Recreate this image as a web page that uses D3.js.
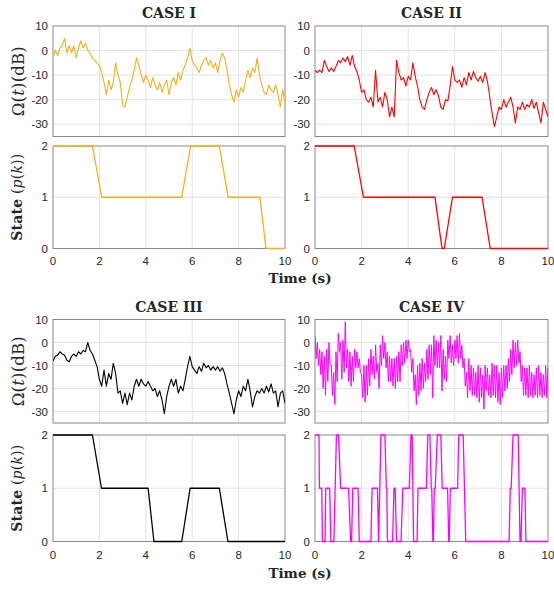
<!DOCTYPE html>
<html>
<head>
<meta charset="utf-8">
<script src="https://cdn.jsdelivr.net/npm/d3@7"></script>
<style>
    body { margin: 0; background: #ffffff; }
    svg { display: block; }
    .tick-label { font-family: 'Liberation Sans', Arial, sans-serif; font-size: 11.5px; fill: #262626; }
    .serif { font-family: 'DejaVu Serif', 'Liberation Serif', serif; fill: #262626; }
</style>
</head>
<body>
<div id="chart"></div>
<script>
// titles and tick labels
var caseTitles = ['CASE I', 'CASE II', 'CASE III', 'CASE IV'];
var timeTicks = [0, 2, 4, 6, 8, 10];
var signalTicks = [10, 0, -10, -20, -30];
var stateTicks = [0, 1, 2];

// signal samples, one every 0.1 s from 0 to 10 s (dB)
var signalStep = 0.1;

var caseOneSignal = [
    -3, 0, -2, 1, 2, 5, -1, 2, -1, 2,
    -3, 1, 4, 1, 3, 0, -1, -3, -4, -5,
    -6, -9, -13, -18, -12, -16, -13, -5, -10, -13,
    -22, -23, -19, -15, -12, -8, -3, -6, -10, -13,
    -10, -12, -15, -11, -14, -16, -13, -17, -14, -12,
    -18, -13, -11, -14, -9, -12, -8, -6, -3, 1,
    -4, -6, -7, -9, -6, -4, -3, -6, -4, -7,
    -5, -9, -4, -1, -3, -8, -14, -18, -21, -16,
    -19, -15, -17, -12, -8, -11, -7, -9, -3, -10,
    -14, -17, -18, -14, -16, -17, -14, -18, -23, -16,
    -21
];

var caseTwoSignal = [
    -8, -9, -8, -9, -4, -6.5, -8.5, -7, -8.5, -6.5,
    -4, -5, -3, -4.5, -2.5, -6, -2, -6.5, -8.5, -12,
    -17, -16, -20, -21, -19, -23, -8, -21, -19, -23,
    -17, -20, -27, -23, -27, -4, -9, -12, -11, -14.5,
    -10.5, -12, -5, -10.5, -14.5, -20, -23, -24, -20, -17,
    -15, -18, -16, -18.5, -23, -24, -20, -20.5, -14.5, -6.5,
    -12, -13, -12, -15, -11, -14, -9, -12, -8.5, -11,
    -12.5, -10.5, -13, -9, -12.5, -19, -25.5, -31, -27, -23,
    -24, -20, -23, -21, -19, -23, -29.5, -23, -24, -21,
    -24, -22, -23, -20, -23.5, -21, -25.5, -29.5, -21, -24,
    -27
];

var caseThreeSignal = [
    -8, -6, -5.5, -4, -5, -5.5, -7.7, -8.4, -6, -5,
    -6, -4, -5, -3.5, -4, 0, -3.5, -5, -7.7, -10.5,
    -16, -19, -12, -19, -13.5, -16, -9, -13.5, -22, -21,
    -26.5, -22, -27, -22, -25, -19, -16, -19, -16, -18,
    -19, -17, -19, -21, -20, -23.5, -21, -25, -31, -23.5,
    -19, -16, -19, -16, -22, -19, -21, -16, -10.5, -6,
    -10.5, -12, -13.5, -10.5, -12.5, -9, -11, -10, -12, -10.5,
    -12, -10.5, -12.5, -11, -13.5, -18, -22, -26.5, -31, -25,
    -21, -23.5, -19, -21, -16, -21, -28, -23.5, -21, -22,
    -20, -22, -19, -21.5, -18, -22, -21, -28, -22, -21,
    -26.5
];

// case IV swings fast: upper and lower swing per 0.1 s step
var caseFourHigh = [
    3, 0, -3, -4, -6, -3, 0, -10, -13, -4,
    4, 0, 1, 9, -3, -4, -6, -3, -4, -7,
    -14, -10, -10, -7, -3, -6, -1, -9, -1, 3,
    0, -4, -6, -7, -7, -6, -4, -1, 0, 1,
    1, -3, -7, -14, -10, -9, -7, -9, -3, -1,
    -1, 3, 1, 0, 3, -3, -6, 1, 3, -1,
    1, 3, 4, -1, -7, -13, -7, -10, -11, -13,
    -10, -11, -14, -10, -11, -14, -9, -10, -10, -13,
    -11, -10, -10, -7, -3, 1, 0, 1, -4, -10,
    -11, -11, -10, -13, -14, -11, -10, -13, -14, -10,
    -11
];
var caseFourLow = [
    -7, -10, -14, -20, -23, -17, -10, -23, -27, -17,
    -4, -16, -13, -11, -17, -19, -17, -11, -11, -13,
    -24, -26, -23, -19, -14, -16, -13, -20, -10, -7,
    -11, -17, -17, -19, -20, -17, -17, -10, -9, -7,
    -4, -13, -21, -27, -23, -21, -20, -17, -16, -14,
    -24, -10, -11, -11, -21, -16, -17, -7, -9, -10,
    -7, -9, -7, -11, -19, -24, -21, -23, -23, -24,
    -26, -24, -29, -21, -23, -24, -23, -24, -26, -27,
    -24, -21, -20, -17, -14, -11, -10, -9, -17, -23,
    -23, -24, -23, -24, -23, -24, -23, -24, -23, -24,
    -27
];

// state trajectories: corner times (s) and state values
var caseOneStateTimes = [0, 1.7, 2.1, 5.55, 5.93, 7.17, 7.55, 8.92, 9.18, 10];
var caseOneStates = [2, 2, 1, 1, 2, 2, 1, 1, 0, 0];

var caseTwoStateTimes = [0, 1.68, 2.08, 5.15, 5.45, 5.55, 5.9, 7.17, 7.52, 10];
var caseTwoStates = [2, 2, 1, 1, 0, 0, 1, 1, 0, 0];

var caseThreeStateTimes = [0, 1.7, 2.09, 4.1, 4.35, 5.55, 5.91, 7.17, 7.54, 10];
var caseThreeStates = [2, 2, 1, 1, 0, 0, 1, 1, 0, 0];

var caseFourStateTimes = [
    0, 0.17, 0.19, 0.29, 0.32, 0.43, 0.46, 0.63, 0.68, 0.81,
    0.92, 1.01, 1.1, 1.44, 1.53, 1.57, 1.62, 1.85, 1.9, 2.4,
    2.45, 2.68, 2.73, 2.83, 3.0, 3.06, 3.08, 3.11, 3.33, 3.39,
    3.44, 3.5, 3.69, 3.77, 4.05, 4.12, 4.17, 4.23, 4.38, 4.42,
    4.78, 4.84, 4.93, 4.99, 5.01, 5.06, 5.08, 5.12, 5.16, 5.25,
    5.4, 5.46, 5.69, 5.74, 5.76, 5.81, 6.12, 6.17, 6.36, 6.47,
    8.33, 8.38, 8.42, 8.5, 8.72, 8.8, 8.84, 8.9, 9.01, 9.05,
    10
];
var caseFourStates = [
    2, 2, 1, 1, 0, 0, 1, 1, 0, 0,
    2, 2, 1, 1, 0, 0, 1, 1, 0, 0,
    1, 1, 0, 2, 2, 1, 1, 0, 0, 1,
    1, 0, 0, 1, 1, 2, 2, 0, 0, 1,
    1, 2, 2, 1, 1, 0, 0, 1, 1, 2,
    2, 1, 1, 0, 0, 1, 1, 2, 2, 0,
    0, 1, 1, 2, 2, 0, 0, 1, 1, 0,
    0
];


function buildChart(containerId) {
    // size globals
    var width = 554;
    var height = 589;

    var columns = [
        { left: 53, right: 285 },
        { left: 315, right: 548 }
    ];

    var rows = [
        { title: 18, signal: [26, 136.5], state: [146, 248.5], ticks: 265, xlabel: 283 },
        { title: 312, signal: [319.5, 423], state: [435, 541.5], ticks: 559, xlabel: 578 }
    ];

    // build point lists from the arrays above
    function sampled(values) {
        return values.map((v, i) => [i * signalStep, v]);
    }

    function swinging(high, low) {
        var pts = [];
        high.forEach((h, i) => {
            pts.push([i * signalStep, h]);
            pts.push([i * signalStep + signalStep / 2, low[i]]);
        });
        return pts;
    }

    function corners(times, states) {
        return times.map((t, i) => [t, states[i]]);
    }

    var panels = [
        { row: 0, col: 0, color: '#f2b01e', lw: 1.1, signal: sampled(caseOneSignal), state: corners(caseOneStateTimes, caseOneStates) },
        { row: 0, col: 1, color: '#ff0000', lw: 1.1, signal: sampled(caseTwoSignal), state: corners(caseTwoStateTimes, caseTwoStates) },
        { row: 1, col: 0, color: '#000000', lw: 1.1, signal: sampled(caseThreeSignal), state: corners(caseThreeStateTimes, caseThreeStates) },
        { row: 1, col: 1, color: '#ff00ff', lw: 1.0, signal: swinging(caseFourHigh, caseFourLow), state: corners(caseFourStateTimes, caseFourStates) }
    ];

    var svg = d3
        .select(containerId)
        .append('svg')
        .attr('width', width)
        .attr('height', height);

    var defs = svg.append('defs');

    panels.forEach((p, idx) => {
        var col = columns[p.col];
        var row = rows[p.row];

        var x = d3.scaleLinear()
            .domain([0, 10])
            .range([col.left, col.right]);

        var ySignal = d3.scaleLinear()
            .domain([-35, 10])
            .range([row.signal[1], row.signal[0]]);

        var yState = d3.scaleLinear()
            .domain([0, 2])
            .range([row.state[1], row.state[0]]);

        // title
        svg.append('text')
            .attr('class', 'serif')
            .attr('x', (col.left + col.right) / 2)
            .attr('y', row.title)
            .attr('text-anchor', 'middle')
            .style('font-size', '14px')
            .style('font-weight', 'bold')
            .text(caseTitles[idx]);

        drawAxes(x, ySignal, signalTicks, 'sig' + idx, p.signal, p.color, p.lw);
        drawAxes(x, yState, stateTicks, 'st' + idx, p.state, p.color, 1.3);

        // x tick labels under the state axes
        svg.append('g')
            .selectAll('text')
            .data(timeTicks)
            .enter()
            .append('text')
            .attr('class', 'tick-label')
            .attr('x', d => x(d))
            .attr('y', row.ticks)
            .attr('text-anchor', 'middle')
            .text(d => String(d));

        if (p.col === 0) {
            var sigLabel = svg.append('text')
                .attr('class', 'serif')
                .attr('text-anchor', 'middle')
                .attr('dominant-baseline', 'central')
                .attr('transform', 'translate(18,' + ((row.signal[0] + row.signal[1]) / 2) + ') rotate(-90)')
                .attr('textLength', 70)
                .attr('lengthAdjust', 'spacing')
                .style('font-size', '16.5px');
            sigLabel.append('tspan').text('Ω(');
            sigLabel.append('tspan').style('font-style', 'italic').text('t');
            sigLabel.append('tspan').text(')(dB)');

            var stLabel = svg.append('text')
                .attr('class', 'serif')
                .attr('text-anchor', 'middle')
                .attr('dominant-baseline', 'central')
                .attr('transform', 'translate(17,' + ((row.state[0] + row.state[1]) / 2) + ') rotate(-90)')
                .attr('textLength', 87)
                .attr('lengthAdjust', 'spacing')
                .style('font-size', '14px');
            stLabel.append('tspan').style('font-weight', 'bold').text('State');
            stLabel.append('tspan').text(' (');
            stLabel.append('tspan').style('font-style', 'italic').text('p');
            stLabel.append('tspan').text('(');
            stLabel.append('tspan').style('font-style', 'italic').text('k');
            stLabel.append('tspan').text('))');

            svg.append('text')
                .attr('class', 'serif')
                .attr('x', 300)
                .attr('y', row.xlabel)
                .attr('text-anchor', 'middle')
                .style('font-size', '13.5px')
                .style('font-weight', 'bold')
                .text('Time (s)');
        }
    });

    function drawAxes(x, y, yTicks, id, points, color, lw) {
        var x0 = x.range()[0], x1 = x.range()[1];
        var yb = y.range()[0], yt = y.range()[1];

        var g = svg.append('g');

        // grid
        g.append('g')
            .selectAll('line.vgrid')
            .data(timeTicks.slice(1, -1))
            .enter()
            .append('line')
            .attr('x1', d => x(d))
            .attr('x2', d => x(d))
            .attr('y1', yt)
            .attr('y2', yb)
            .style('stroke', '#e3e3e3')
            .style('stroke-width', 1);

        g.append('g')
            .selectAll('line.hgrid')
            .data(yTicks.filter(d => y(d) > yt + 1 && y(d) < yb - 1))
            .enter()
            .append('line')
            .attr('x1', x0)
            .attr('x2', x1)
            .attr('y1', d => y(d))
            .attr('y2', d => y(d))
            .style('stroke', '#e3e3e3')
            .style('stroke-width', 1);

        // y tick labels
        g.append('g')
            .selectAll('text')
            .data(yTicks)
            .enter()
            .append('text')
            .attr('class', 'tick-label')
            .attr('x', x0 - 5)
            .attr('y', d => y(d))
            .attr('dy', '0.36em')
            .attr('text-anchor', 'end')
            .text(d => String(d));

        // box
        g.append('rect')
            .attr('x', x0)
            .attr('y', yt)
            .attr('width', x1 - x0)
            .attr('height', yb - yt)
            .style('fill', 'none')
            .style('stroke', '#8a8a8a')
            .style('stroke-width', 1);

        defs.append('clipPath')
            .attr('id', 'clip-' + id)
            .append('rect')
            .attr('x', x0)
            .attr('y', yt - 2)
            .attr('width', x1 - x0)
            .attr('height', yb - yt + 4);

        var line = d3.line()
            .x(d => x(d[0]))
            .y(d => y(d[1]));

        g.append('path')
            .datum(points)
            .attr('clip-path', 'url(#clip-' + id + ')')
            .attr('d', line)
            .style('fill', 'none')
            .style('stroke', color)
            .style('stroke-width', lw)
            .style('stroke-linejoin', 'round');
    }
}

buildChart('#chart');
</script>
</body>
</html>
